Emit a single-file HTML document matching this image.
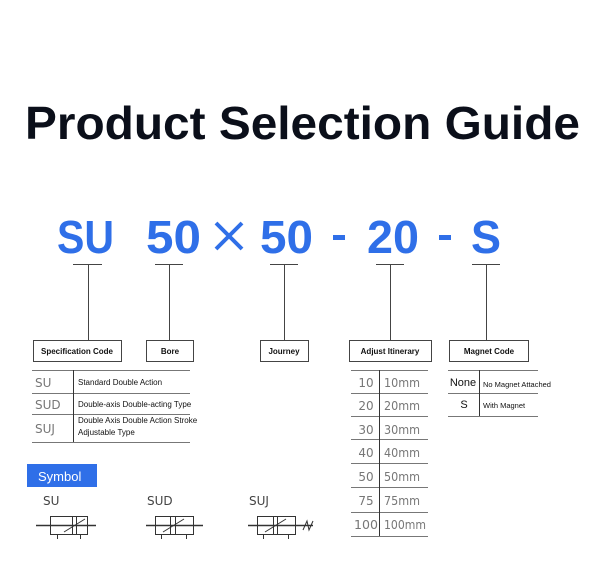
<!DOCTYPE html>
<html><head><meta charset="utf-8"><style>
html,body{margin:0;padding:0;background:#fff;width:601px;height:570px;overflow:hidden}
svg{display:block}
.s{font-family:"Liberation Sans",sans-serif}
</style></head><body>
<svg width="601" height="570" viewBox="0 0 601 570" xmlns="http://www.w3.org/2000/svg" class="s">
<text x="25" y="139" font-size="46" font-weight="bold" fill="#0b0f1a" textLength="555" lengthAdjust="spacingAndGlyphs">Product Selection Guide</text>
<g fill="#2f6fe8" font-size="46" font-weight="bold">
<text x="57" y="253" textLength="57" lengthAdjust="spacingAndGlyphs">SU</text>
<text x="146" y="253" textLength="55" lengthAdjust="spacingAndGlyphs">50</text>
<text x="260" y="253" textLength="53" lengthAdjust="spacingAndGlyphs">50</text>
<text x="367" y="253" textLength="52" lengthAdjust="spacingAndGlyphs">20</text>
<text x="471" y="253" textLength="30" lengthAdjust="spacingAndGlyphs">S</text>
<rect x="333" y="235" width="12" height="5"/>
<rect x="439" y="235" width="12" height="5"/>
</g>
<g stroke="#2f6fe8" stroke-width="4"><line x1="216" y1="223" x2="242" y2="249"/><line x1="242" y1="223" x2="216" y2="249"/></g>
<g stroke="#444" stroke-width="1" fill="none">
<line x1="73" y1="264.5" x2="102" y2="264.5"/><line x1="88.5" y1="264" x2="88.5" y2="340"/>
<line x1="155" y1="264.5" x2="183" y2="264.5"/><line x1="169.5" y1="264" x2="169.5" y2="340"/>
<line x1="270" y1="264.5" x2="298" y2="264.5"/><line x1="284.5" y1="264" x2="284.5" y2="340"/>
<line x1="376" y1="264.5" x2="404" y2="264.5"/><line x1="390.5" y1="264" x2="390.5" y2="340"/>
<line x1="472" y1="264.5" x2="500" y2="264.5"/><line x1="486.5" y1="264" x2="486.5" y2="340"/>
<rect x="33.5" y="340.5" width="88" height="21"/>
<rect x="146.5" y="340.5" width="47" height="21"/>
<rect x="260.5" y="340.5" width="48" height="21"/>
<rect x="349.5" y="340.5" width="82" height="21"/>
<rect x="449.5" y="340.5" width="79" height="21"/>
</g>
<g font-size="8" font-weight="bold" fill="#111" text-anchor="middle">
<text x="77" y="354">Specification Code</text>
<text x="170" y="354">Bore</text>
<text x="284" y="354">Journey</text>
<text x="390" y="354">Adjust Itinerary</text>
<text x="489" y="354">Magnet Code</text>
</g>
<g stroke="#777" stroke-width="1">
<line x1="32" y1="370.5" x2="190" y2="370.5"/><line x1="32" y1="393.5" x2="190" y2="393.5"/>
<line x1="32" y1="414.5" x2="190" y2="414.5"/><line x1="32" y1="442.5" x2="190" y2="442.5"/>
<line x1="73.5" y1="370" x2="73.5" y2="442" stroke="#333"/>
<line x1="351" y1="370.5" x2="428" y2="370.5"/><line x1="351" y1="393.5" x2="428" y2="393.5"/>
<line x1="351" y1="416.5" x2="428" y2="416.5"/><line x1="351" y1="439.5" x2="428" y2="439.5"/>
<line x1="351" y1="463.5" x2="428" y2="463.5"/><line x1="351" y1="487.5" x2="428" y2="487.5"/>
<line x1="351" y1="512.5" x2="428" y2="512.5"/><line x1="351" y1="536.5" x2="428" y2="536.5"/>
<line x1="379.5" y1="370" x2="379.5" y2="536" stroke="#333"/>
<line x1="448" y1="370.5" x2="538" y2="370.5"/><line x1="448" y1="393.5" x2="538" y2="393.5"/>
<line x1="448" y1="416.5" x2="538" y2="416.5"/>
<line x1="479.5" y1="370" x2="479.5" y2="416" stroke="#333"/>
</g>
<g font-size="12" fill="#777" font-family="DejaVu Sans,sans-serif">
<text x="35" y="387">SU</text><text x="35" y="409">SUD</text><text x="35" y="433">SUJ</text>
</g>
<g font-size="8" fill="#111">
<text x="78" y="385">Standard Double Action</text>
<text x="78" y="407">Double-axis Double-acting Type</text>
<text x="78" y="423">Double Axis Double Action Stroke</text>
<text x="78" y="435">Adjustable Type</text>
<text x="483" y="387" font-size="7.5">No Magnet Attached</text>
<text x="483" y="408" font-size="7.5">With Magnet</text>
</g>
<g font-size="11" fill="#111" text-anchor="middle">
<text x="463" y="386">None</text><text x="464" y="408">S</text>
</g>
<g font-size="12" fill="#777" font-family="DejaVu Sans,sans-serif">
<g text-anchor="middle">
<text x="366" y="387">10</text><text x="366" y="410">20</text><text x="366" y="434">30</text>
<text x="366" y="457">40</text><text x="366" y="481">50</text><text x="366" y="505">75</text><text x="366" y="529" textLength="24" lengthAdjust="spacingAndGlyphs">100</text>
</g>
<g>
<text x="384" y="387" textLength="36" lengthAdjust="spacingAndGlyphs">10mm</text><text x="384" y="410" textLength="36" lengthAdjust="spacingAndGlyphs">20mm</text><text x="384" y="434" textLength="36" lengthAdjust="spacingAndGlyphs">30mm</text>
<text x="384" y="457" textLength="36" lengthAdjust="spacingAndGlyphs">40mm</text><text x="384" y="481" textLength="36" lengthAdjust="spacingAndGlyphs">50mm</text><text x="384" y="505" textLength="36" lengthAdjust="spacingAndGlyphs">75mm</text><text x="384" y="529" textLength="42" lengthAdjust="spacingAndGlyphs">100mm</text>
</g>
</g>
<rect x="27" y="464" width="70" height="23" fill="#2f6fe8"/>
<text x="38" y="481" font-size="13" fill="#fff">Symbol</text>
<g font-size="12" fill="#444" font-family="DejaVu Sans,sans-serif">
<text x="43" y="505">SU</text><text x="147" y="505">SUD</text><text x="249" y="505">SUJ</text>
</g>
<g stroke="#333" stroke-width="1" fill="none">
<g>
<rect x="50.5" y="516.5" width="37" height="18"/><line x1="36" y1="525.5" x2="96" y2="525.5" stroke-width="1.5"/>
<line x1="72.5" y1="516" x2="72.5" y2="534"/><line x1="76.5" y1="516" x2="76.5" y2="534"/>
<line x1="64" y1="532" x2="85" y2="519"/><line x1="57.5" y1="535" x2="57.5" y2="539"/><line x1="80.5" y1="535" x2="80.5" y2="539"/>
</g>
<g>
<rect x="155.5" y="516.5" width="38" height="18"/><line x1="146" y1="525.5" x2="203" y2="525.5" stroke-width="1.5"/>
<line x1="170.5" y1="516" x2="170.5" y2="534"/><line x1="175.5" y1="516" x2="175.5" y2="534"/>
<line x1="163" y1="532" x2="184" y2="519"/><line x1="161.5" y1="535" x2="161.5" y2="539"/><line x1="186.5" y1="535" x2="186.5" y2="539"/>
</g>
<g>
<rect x="257.5" y="516.5" width="38" height="18"/><line x1="248" y1="525.5" x2="313" y2="525.5" stroke-width="1.5"/>
<line x1="273.5" y1="516" x2="273.5" y2="534"/><line x1="277.5" y1="516" x2="277.5" y2="534"/>
<line x1="265" y1="532" x2="286" y2="519"/><line x1="263.5" y1="535" x2="263.5" y2="539"/><line x1="288.5" y1="535" x2="288.5" y2="539"/>
<path d="M303 530 L307 521 L309 530 L313 521"/>
</g>
</g>
</svg>
</body></html>
